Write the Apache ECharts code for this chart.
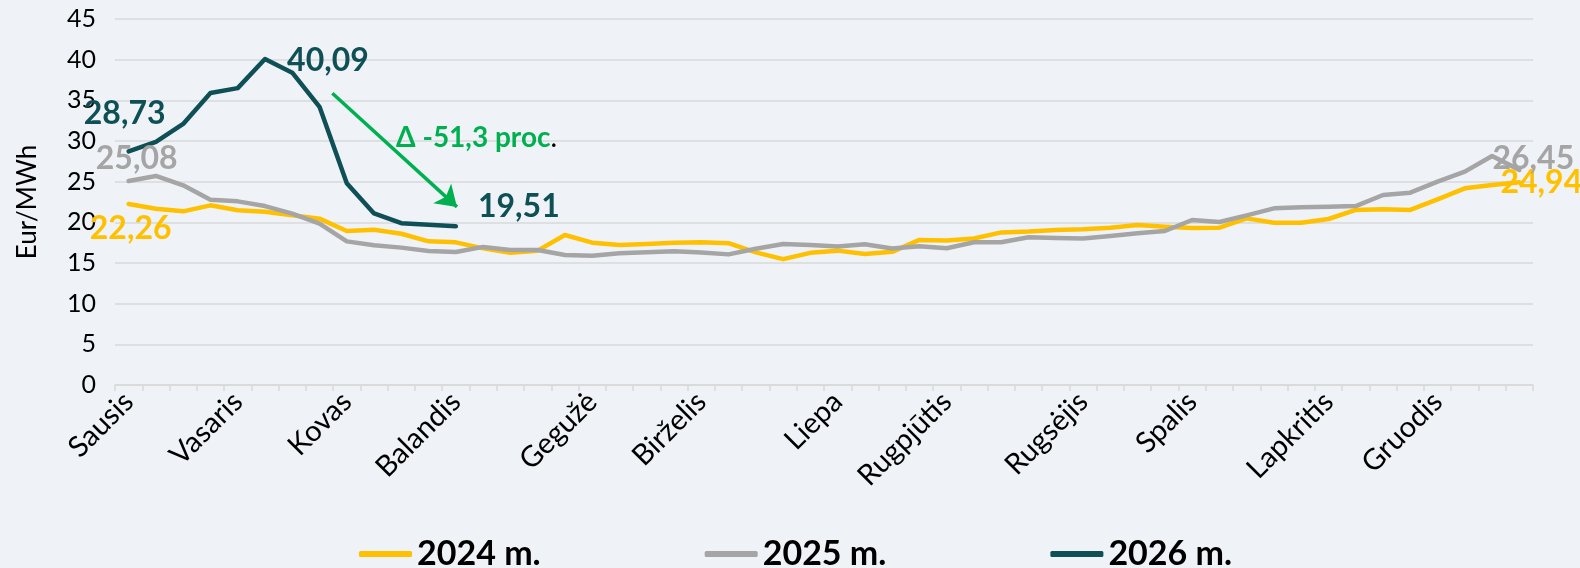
<!DOCTYPE html>
<html>
<head>
<meta charset="utf-8">
<script src="https://cdn.jsdelivr.net/npm/echarts@6/dist/echarts.min.js"></script>
<style>
  html, body { margin: 0; padding: 0; background: #eff3f7; }
  #chart { width: 1580px; height: 568px; }
</style>
</head>
<body>
<div id="chart"></div>
<script>
  // savaitės (52)
  const weeks = ['1', '2', '3', '4', '5', '6', '7', '8', '9', '10', '11', '12', '13',
    '14', '15', '16', '17', '18', '19', '20', '21', '22', '23', '24', '25', '26',
    '27', '28', '29', '30', '31', '32', '33', '34', '35', '36', '37', '38', '39',
    '40', '41', '42', '43', '44', '45', '46', '47', '48', '49', '50', '51', '52']
  const monthNames = ['Sausis', 'Vasaris', 'Kovas', 'Balandis', 'Gegužė', 'Birželis',
    'Liepa', 'Rugpjūtis', 'Rugsėjis', 'Spalis', 'Lapkritis', 'Gruodis']
  const monthWeek = [0, 4, 8, 12, 17, 21, 26, 30, 35, 39, 44, 48]

  const s2024 = [22.26, 21.68, 21.35, 22.09, 21.48, 21.31, 20.86, 20.45, 18.93, 19.10,
    18.60, 17.66, 17.54, 16.80, 16.27, 16.52, 18.44, 17.50, 17.22, 17.33,
    17.49, 17.54, 17.43, 16.30, 15.47, 16.25, 16.52, 16.10, 16.37, 17.84,
    17.78, 18.02, 18.76, 18.86, 19.06, 19.15, 19.34, 19.67, 19.47, 19.30,
    19.34, 20.49, 19.96, 19.96, 20.41, 21.52, 21.60, 21.52, 22.83, 24.18,
    24.59, 24.94]
  const s2025 = [25.08, 25.70, 24.55, 22.79, 22.58, 22.00, 21.07, 19.84, 17.66, 17.17,
    16.89, 16.48, 16.35, 16.98, 16.60, 16.60, 15.98, 15.90, 16.20, 16.32,
    16.45, 16.30, 16.06, 16.75, 17.33, 17.20, 17.02, 17.30, 16.78, 17.06,
    16.82, 17.55, 17.55, 18.17, 18.08, 18.00, 18.32, 18.65, 18.93, 20.29,
    20.04, 20.86, 21.72, 21.84, 21.93, 22.00, 23.36, 23.65, 25.00, 26.23,
    28.16, 26.45]
  const s2026 = [28.73, 29.90, 32.10, 35.90, 36.50, 40.09, 38.40, 34.20, 24.80, 21.10,
    19.90, 19.70, 19.51]

  // rodyklė ir tekstas (duomenų koordinatės)
  const arrowFrom = [7.47, 35.87]
  const arrowTo = [12.04, 21.9]
  const changePos = [12.76, 30.4]

  const FONT = 'Lato'
  const C2024 = '#ffc000'
  const C2025 = '#a5a5a5'
  const C2026 = '#0e5055'

  const fmt = v => v.toFixed(2).replace('.', ',')

  function withLabels(values, color, marks) {
    return values.map((v, i) => {
      if (!marks[i]) {
        return v
      }
      return {
        value: v,
        label: {
          show: true,
          position: 'inside',
          offset: marks[i],
          color: color,
          fontFamily: FONT,
          fontWeight: 'bold',
          fontSize: 32,
          formatter: p => fmt(p.value)
        }
      }
    })
  }

  function lineSeries(name, values, color, marks) {
    return {
      name: name,
      type: 'line',
      data: withLabels(values, color, marks),
      symbol: 'circle',
      symbolSize: 0,
      showSymbol: true,
      silent: true,
      animation: false,
      lineStyle: { color: color, width: 4.5, join: 'round', cap: 'round' },
      itemStyle: { color: color },
      emphasis: { disabled: true }
    }
  }

  const peak = s2026.indexOf(Math.max(...s2026))
  const change = (s2026[s2026.length - 1] / s2026[peak] - 1) * 100
  const changeText = 'Δ ' + change.toFixed(1).replace('.', ',') + ' proc'

  const chart = echarts.init(document.getElementById('chart'))
  chart.setOption({
    backgroundColor: '#eff3f7',
    animation: false,
    grid: { left: 115, right: 47, top: 19, bottom: 183 },
    legend: {
      data: ['2024 m.', '2025 m.', '2026 m.'],
      left: 354,
      top: 532,
      icon: 'roundRect',
      itemWidth: 53,
      itemHeight: 6,
      itemGap: 164,
      textStyle: { fontFamily: FONT, fontWeight: 'bold', fontSize: 34, color: '#000' }
    },
    xAxis: [
      {
        type: 'category',
        data: weeks,
        boundaryGap: true,
        axisLine: { lineStyle: { color: '#d9d9d9', width: 1.5 } },
        axisTick: { show: true, interval: 0, length: 6, lineStyle: { color: '#d9d9d9', width: 1.5 } },
        axisLabel: {
          interval: 0,
          rotate: 45,
          margin: 12,
          fontFamily: FONT,
          fontSize: 29,
          color: '#000',
          formatter: (val, idx) => {
            const k = monthWeek.indexOf(idx)
            return k >= 0 ? monthNames[k] : ''
          }
        },
        splitLine: { show: false }
      },
      { type: 'value', min: -0.5, max: 51.5, show: false }
    ],
    yAxis: {
      type: 'value',
      min: 0,
      max: 45,
      interval: 5,
      name: 'Eur/MWh',
      nameLocation: 'middle',
      nameRotate: 90,
      nameGap: 74,
      nameTextStyle: { fontFamily: FONT, fontSize: 26, color: '#000' },
      axisLine: { show: false },
      axisTick: { show: false },
      axisLabel: { fontFamily: FONT, fontSize: 25, color: '#000', margin: 19 },
      splitLine: { lineStyle: { color: '#d9d9d9', width: 1.5 } }
    },
    series: [
      lineSeries('2024 m.', s2024, C2024, { 0: [2, 25], 51: [22, 1] }),
      lineSeries('2025 m.', s2025, C2025, { 0: [8, -22], 51: [14, -11] }),
      lineSeries('2026 m.', s2026, C2026, { 0: [-4, -38], 5: [63, 2], 12: [63, -20] }),
      {
        type: 'scatter',
        xAxisIndex: 1,
        yAxisIndex: 0,
        data: [],
        silent: true,
        markLine: {
          silent: true,
          animation: false,
          symbol: ['none', 'arrow'],
          symbolSize: 20,
          label: { show: false },
          lineStyle: { color: '#00b050', width: 3.5, type: 'solid' },
          data: [[{ coord: arrowFrom }, { coord: arrowTo }]]
        },
        markPoint: {
          silent: true,
          animation: false,
          symbol: 'circle',
          symbolSize: 0,
          label: {
            show: true,
            position: 'inside',
            formatter: '{g|' + changeText + '}{k|.}',
            rich: {
              g: { color: '#00b050', fontFamily: FONT, fontWeight: 'bold', fontSize: 28 },
              k: { color: '#000', fontFamily: FONT, fontSize: 28 }
            }
          },
          data: [{ coord: changePos }]
        }
      }
    ]
  })
</script>
</body>
</html>
